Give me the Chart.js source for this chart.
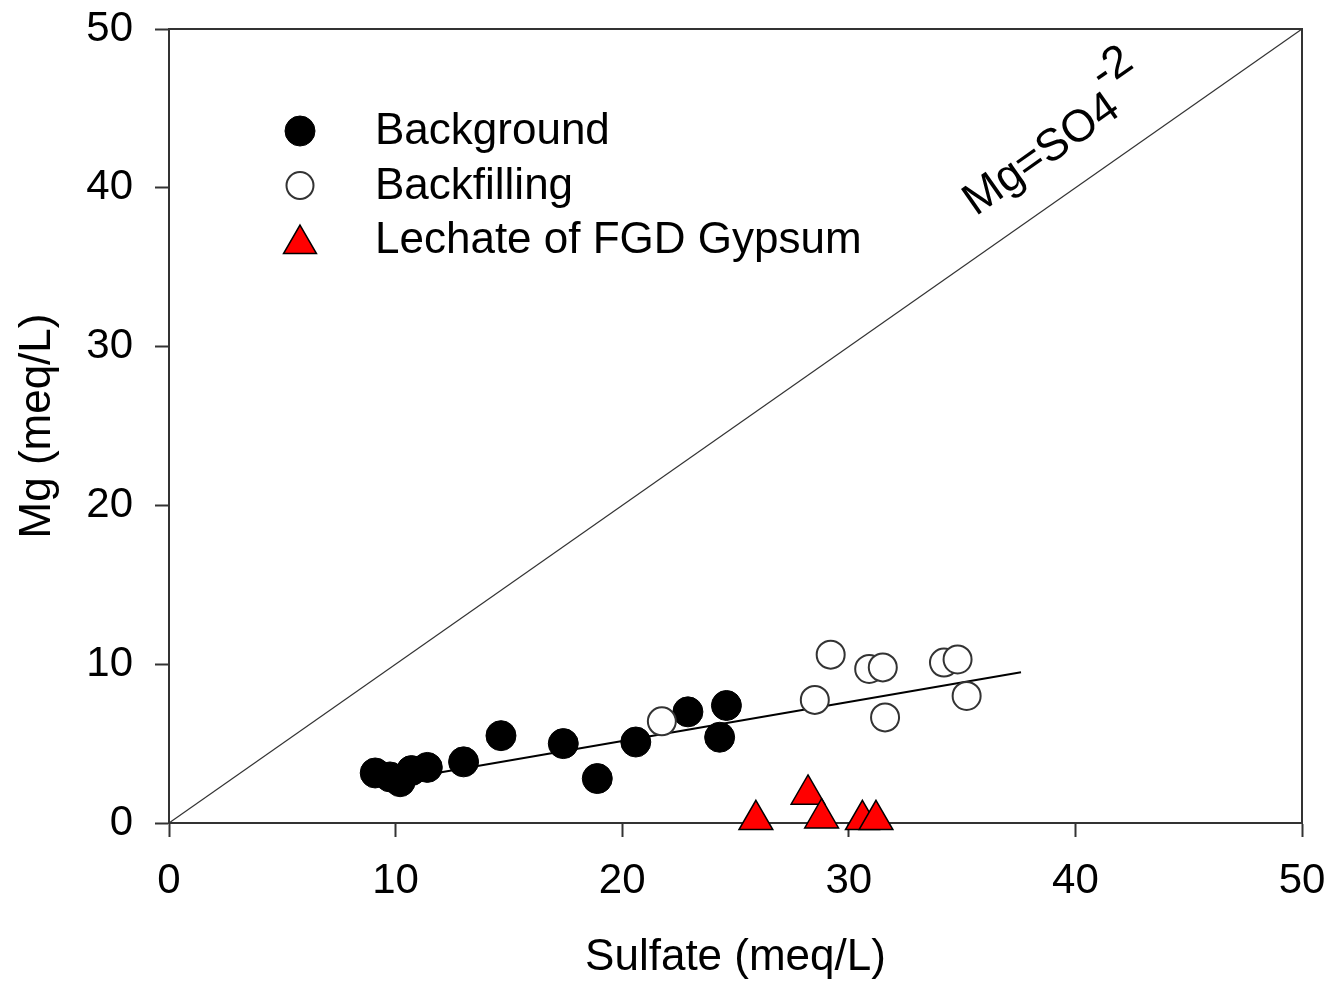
<!DOCTYPE html>
<html>
<head>
<meta charset="utf-8">
<script src="https://cdn.jsdelivr.net/npm/chart.js@4/dist/chart.umd.min.js"></script>
<style>
  html, body { margin: 0; padding: 0; background: #ffffff; }
  #wrap { width: 1330px; height: 981px; position: relative; }
</style>
</head>
<body>
<div id="wrap"><canvas id="c" width="1330" height="981"></canvas></div>
<script>
// ---- Data ----
const backgroundX = [9.1, 9.75, 10.2, 10.7, 11.4, 13.0, 14.65, 17.4, 18.9, 20.6, 22.9, 24.6, 24.3];
const backgroundY = [3.15, 2.9, 2.6, 3.3, 3.5, 3.85, 5.5, 5.0, 2.8, 5.1, 7.0, 7.4, 5.4];

const backfillingX = [21.75, 28.5, 29.2, 30.9, 31.5, 31.6, 34.2, 34.8, 35.2];
const backfillingY = [6.4, 7.75, 10.6, 9.7, 9.8, 6.65, 10.1, 10.3, 8.0];

const leachateX = [25.9, 28.2, 28.8, 30.6, 31.2];
const leachateY = [0.2, 1.8, 0.3, 0.2, 0.2];

const fitX = [9.2, 37.6];
const fitY = [2.5, 9.5];

const oneToOneX = [0, 50];
const oneToOneY = [0, 50];

const xTicks = [0, 10, 20, 30, 40, 50];
const yTicks = [0, 10, 20, 30, 40, 50];

const seriesNames = ['Background', 'Backfilling', 'Lechate of FGD Gypsum'];
const xTitle = 'Sulfate (meq/L)';
const yTitle = 'Mg (meq/L)';
const lineLabel = 'Mg=SO4';
const lineLabelSup = '-2';

const toPts = (xs, ys) => xs.map((x, i) => ({ x: x, y: ys[i] }));

const FONT = '"Liberation Sans", Arial, sans-serif';
const AXIS_COLOR = '#333333';

const styles = [
  { pointStyle: 'circle', radius: 15, bg: '#000000', border: '#000000', bw: 1 },
  { pointStyle: 'circle', radius: 14, bg: '#ffffff', border: '#333333', bw: 2 },
  { pointStyle: 'triangle', radius: 19.5, bg: '#ff0000', border: '#000000', bw: 1.5 }
];

function drawMarker(ctx, st, x, y) {
  ctx.save();
  ctx.fillStyle = st.bg;
  ctx.strokeStyle = st.border;
  ctx.lineWidth = st.bw;
  ctx.beginPath();
  if (st.pointStyle === 'circle') {
    ctx.arc(x, y, st.radius, 0, Math.PI * 2);
  } else {
    const r = st.radius;
    let a = 0;
    ctx.moveTo(x + Math.sin(a) * r, y - Math.cos(a) * r);
    a += 2 * Math.PI / 3;
    ctx.lineTo(x + Math.sin(a) * r, y - Math.cos(a) * r);
    a += 2 * Math.PI / 3;
    ctx.lineTo(x + Math.sin(a) * r, y - Math.cos(a) * r);
    ctx.closePath();
  }
  ctx.fill();
  ctx.stroke();
  ctx.restore();
}

const decorPlugin = {
  id: 'decor',
  afterDatasetsDraw(chart) {
    const ctx = chart.ctx;
    const a = chart.chartArea;
    const xs = chart.scales.x, ys = chart.scales.y;

    // frame top and right
    ctx.save();
    ctx.strokeStyle = AXIS_COLOR;
    ctx.lineWidth = 2;
    ctx.beginPath();
    ctx.moveTo(a.left, a.top);
    ctx.lineTo(a.right, a.top);
    ctx.lineTo(a.right, a.bottom);
    ctx.stroke();
    ctx.restore();

    // legend
    const lx = a.left + 131, ly0 = a.top + 102, dy = 54.5;
    ctx.save();
    ctx.font = '44px ' + FONT;
    ctx.fillStyle = '#000000';
    ctx.textBaseline = 'middle';
    ctx.textAlign = 'left';
    seriesNames.forEach((name, i) => {
      const y = ly0 + i * dy;
      const st = Object.assign({}, styles[i]);
      if (i === 1) st.radius = 13.5;
      if (i === 2) st.radius = 19;
      drawMarker(ctx, st, lx, y + (i === 2 ? 4 : 0));
      ctx.fillText(name, a.left + 206, y + 1);
    });
    ctx.restore();

    // 1:1 line label
    const p0x = xs.getPixelForValue(0), p0y = ys.getPixelForValue(0);
    const p1x = xs.getPixelForValue(50), p1y = ys.getPixelForValue(50);
    const ang = Math.atan2(p1y - p0y, p1x - p0x);
    const tx = xs.getPixelForValue(35.6), ty = ys.getPixelForValue(38.2);
    ctx.save();
    ctx.translate(tx, ty);
    ctx.rotate(ang);
    ctx.font = '45px ' + FONT;
    ctx.fillStyle = '#000000';
    ctx.textBaseline = 'alphabetic';
    ctx.textAlign = 'left';
    ctx.fillText(lineLabel, 0, 0);
    const w = ctx.measureText(lineLabel).width;
    ctx.fillText(lineLabelSup, w - 2, -31);
    ctx.restore();
  }
};

const ctx = document.getElementById('c').getContext('2d');
new Chart(ctx, {
  data: {
    datasets: [
      {
        type: 'line', label: '1:1', data: toPts(oneToOneX, oneToOneY),
        borderColor: '#333333', borderWidth: 1.2, pointRadius: 0, fill: false, order: 5
      },
      {
        type: 'line', label: 'fit', data: toPts(fitX, fitY),
        borderColor: '#000000', borderWidth: 2, pointRadius: 0, fill: false, order: 4
      },
      {
        type: 'scatter', label: seriesNames[0], data: toPts(backgroundX, backgroundY),
        pointStyle: 'circle', pointRadius: styles[0].radius, pointBackgroundColor: styles[0].bg,
        pointBorderColor: styles[0].border, pointBorderWidth: styles[0].bw, clip: false, order: 3
      },
      {
        type: 'scatter', label: seriesNames[1], data: toPts(backfillingX, backfillingY),
        pointStyle: 'circle', pointRadius: styles[1].radius, pointBackgroundColor: styles[1].bg,
        pointBorderColor: styles[1].border, pointBorderWidth: styles[1].bw, clip: false, order: 2
      },
      {
        type: 'scatter', label: seriesNames[2], data: toPts(leachateX, leachateY),
        pointStyle: 'triangle', pointRadius: styles[2].radius, pointBackgroundColor: styles[2].bg,
        pointBorderColor: styles[2].border, pointBorderWidth: styles[2].bw, clip: false, order: 1
      }
    ]
  },
  options: {
    responsive: false,
    animation: false,
    devicePixelRatio: 1,
    layout: { padding: { left: 0, right: 28, top: 29, bottom: 0 } },
    plugins: { legend: { display: false }, tooltip: { enabled: false } },
    scales: {
      x: {
        type: 'linear', min: 0, max: 50,
        afterBuildTicks: (s) => { s.ticks = xTicks.map(v => ({ value: v })); },
        afterFit: (s) => { s.height = 158; s.paddingLeft = 0; s.paddingRight = 0; },
        grid: { drawOnChartArea: false, drawTicks: true, tickLength: 14, tickColor: AXIS_COLOR, tickWidth: 2 },
        border: { display: true, color: AXIS_COLOR, width: 2 },
        ticks: { color: '#000000', font: { family: FONT, size: 42 }, padding: 19, maxRotation: 0 },
        title: { display: true, text: xTitle, color: '#000000', font: { family: FONT, size: 44, lineHeight: 1 }, padding: { top: 0, bottom: 1 } }
      },
      y: {
        type: 'linear', min: 0, max: 50,
        afterBuildTicks: (s) => { s.ticks = yTicks.map(v => ({ value: v })); },
        afterFit: (s) => { s.width = 169; s.paddingTop = 0; s.paddingBottom = 0; },
        grid: { drawOnChartArea: false, drawTicks: true, tickLength: 14, tickColor: AXIS_COLOR, tickWidth: 2 },
        border: { display: true, color: AXIS_COLOR, width: 2 },
        ticks: { color: '#000000', font: { family: FONT, size: 42 }, padding: 22 },
        title: { display: true, text: yTitle, color: '#000000', font: { family: FONT, size: 44, lineHeight: 1 }, padding: { top: 16, bottom: 0 } }
      }
    }
  },
  plugins: [decorPlugin]
});
</script>
</body>
</html>
